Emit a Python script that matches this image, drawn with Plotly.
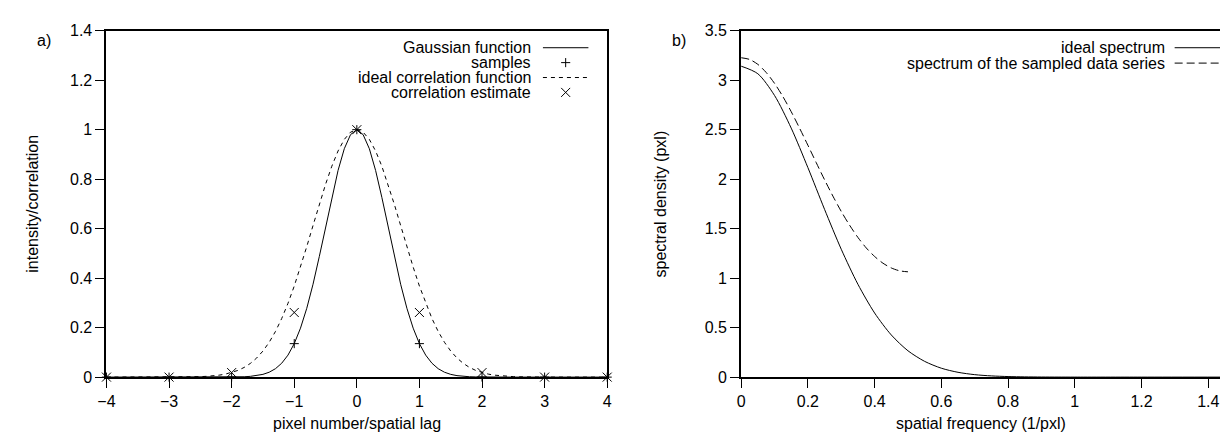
import plotly.graph_objects as go

# ---------------- data: panel a) ----------------
gauss_x = [-4.0, -3.0, -2.5, -2.0, -1.9, -1.8, -1.7, -1.6, -1.5, -1.4, -1.3, -1.2, -1.1, -1.0,
           -0.9, -0.8, -0.7, -0.6, -0.5, -0.4, -0.3, -0.2, -0.1, 0.0,
           0.1, 0.2, 0.3, 0.4, 0.5, 0.6, 0.7, 0.8, 0.9, 1.0,
           1.1, 1.2, 1.3, 1.4, 1.5, 1.6, 1.7, 1.8, 1.9, 2.0, 2.5, 3.0, 4.0]
gauss_y = [0.0, 0.0, 0.0, 0.00034, 0.00073, 0.00154, 0.00309, 0.00598, 0.01111, 0.01984, 0.03405,
           0.05613, 0.08892, 0.13534, 0.19790, 0.27804, 0.37531, 0.48675, 0.60653, 0.72615,
           0.83527, 0.92312, 0.98020, 1.0,
           0.98020, 0.92312, 0.83527, 0.72615, 0.60653, 0.48675, 0.37531, 0.27804, 0.19790,
           0.13534, 0.08892, 0.05613, 0.03405, 0.01984, 0.01111, 0.00598, 0.00309, 0.00154,
           0.00073, 0.00034, 0.0, 0.0, 0.0]

corr_x = [-4.0, -3.5, -3.0, -2.9, -2.8, -2.7, -2.6, -2.5, -2.4, -2.3, -2.2, -2.1, -2.0,
          -1.9, -1.8, -1.7, -1.6, -1.5, -1.4, -1.3, -1.2, -1.1, -1.0,
          -0.9, -0.8, -0.7, -0.6, -0.5, -0.4, -0.3, -0.2, -0.1, 0.0,
          0.1, 0.2, 0.3, 0.4, 0.5, 0.6, 0.7, 0.8, 0.9, 1.0,
          1.1, 1.2, 1.3, 1.4, 1.5, 1.6, 1.7, 1.8, 1.9, 2.0,
          2.1, 2.2, 2.3, 2.4, 2.5, 2.6, 2.7, 2.8, 2.9, 3.0, 3.5, 4.0]
corr_y = [0.0, 0.0, 0.00012, 0.00022, 0.00039, 0.00068, 0.00116, 0.00193, 0.00315, 0.00504,
          0.00791, 0.01216, 0.01832, 0.02705, 0.03916, 0.05558, 0.07730, 0.10540, 0.14086,
          0.18452, 0.23693, 0.29820, 0.36788, 0.44486, 0.52729, 0.61263, 0.69768, 0.77880,
          0.85214, 0.91393, 0.96079, 0.99005, 1.0,
          0.99005, 0.96079, 0.91393, 0.85214, 0.77880, 0.69768, 0.61263, 0.52729, 0.44486,
          0.36788, 0.29820, 0.23693, 0.18452, 0.14086, 0.10540, 0.07730, 0.05558, 0.03916,
          0.02705, 0.01832, 0.01216, 0.00791, 0.00504, 0.00315, 0.00193, 0.00116, 0.00068,
          0.00039, 0.00022, 0.00012, 0.0, 0.0]

sample_x = [-4, -3, -2, -1, 0, 1, 2, 3, 4]
sample_y = [0.0, 0.0, 0.00034, 0.13534, 1.0, 0.13534, 0.00034, 0.0, 0.0]
estimate_y = [0.0, 0.00009, 0.01832, 0.26120, 1.0, 0.26120, 0.01832, 0.00009, 0.0]

# ---------------- data: panel b) ----------------
freq_ideal = [0.0, 0.05, 0.1, 0.15, 0.2, 0.25, 0.3, 0.35, 0.4, 0.45, 0.5, 0.55, 0.6, 0.65,
              0.7, 0.75, 0.8, 0.85, 0.9, 0.95, 1.0, 1.2, 1.44]
spec_ideal = [3.1416, 3.065, 2.846, 2.516, 2.117, 1.695, 1.292, 0.938, 0.648, 0.426, 0.266,
              0.159, 0.0899, 0.0486, 0.0249, 0.0122, 0.00567, 0.00251, 0.00106, 0.00042,
              0.00016, 0.0, 0.0]

freq_sampled = [0.0, 0.025, 0.05, 0.075, 0.1, 0.125, 0.15, 0.175, 0.2, 0.225, 0.25, 0.275,
                0.3, 0.325, 0.35, 0.375, 0.4, 0.425, 0.45, 0.475, 0.5]
spec_sampled = [3.227, 3.210, 3.160, 3.078, 2.968, 2.835, 2.682, 2.516, 2.343, 2.167, 1.994,
                1.829, 1.674, 1.535, 1.411, 1.305, 1.219, 1.151, 1.103, 1.074, 1.064]

left_x_ticks = [-4, -3, -2, -1, 0, 1, 2, 3, 4]

# ---------------- layout geometry (pixels) ----------------
W, H = 1228, 438
FONT = "Liberation Sans, Arial, Helvetica, sans-serif"
FS = 16

def px(x):
    return x / W

def py(y):
    return 1 - y / H

ax_top, ax_bot = 15.3, 375.7
left_l, left_r = 90.5, 597.0
right_l, right_r = 732.5, 1218.5

fig = go.Figure()

black = "black"
fig.add_trace(go.Scatter(x=gauss_x, y=gauss_y, mode="lines", line=dict(color=black, width=1),
                         xaxis="x", yaxis="y", showlegend=False))
fig.add_trace(go.Scatter(x=corr_x, y=corr_y, mode="lines",
                         line=dict(color=black, width=1, dash="4px,4px"),
                         xaxis="x", yaxis="y", showlegend=False))
fig.add_trace(go.Scatter(x=sample_x, y=sample_y, mode="markers",
                         marker=dict(symbol="cross-thin", size=6.5, line=dict(color=black, width=1)),
                         xaxis="x", yaxis="y", cliponaxis=False, showlegend=False))
fig.add_trace(go.Scatter(x=sample_x, y=estimate_y, mode="markers",
                         marker=dict(symbol="x-thin", size=9, line=dict(color=black, width=1)),
                         xaxis="x", yaxis="y", cliponaxis=False, showlegend=False))

fig.add_trace(go.Scatter(x=freq_ideal, y=spec_ideal, mode="lines",
                         line=dict(color=black, width=1, shape="spline", smoothing=0.8),
                         xaxis="x2", yaxis="y2", showlegend=False))
fig.add_trace(go.Scatter(x=freq_sampled, y=spec_sampled, mode="lines",
                         line=dict(color=black, width=1, dash="8px,4px", shape="spline", smoothing=0.8),
                         xaxis="x2", yaxis="y2", showlegend=False))

# legend key samples on a hidden pixel-coordinate overlay axis
kx0, kx1 = 532.0, 578.0
rows_a = [33.0, 48.5, 64.0, 79.5]
fig.add_trace(go.Scatter(x=[kx0, kx1], y=[rows_a[0]] * 2, mode="lines",
                         line=dict(color=black, width=1), xaxis="x3", yaxis="y3", showlegend=False))
fig.add_trace(go.Scatter(x=[(kx0 + kx1) / 2], y=[rows_a[1]], mode="markers",
                         marker=dict(symbol="cross-thin", size=6.5, line=dict(color=black, width=1)),
                         xaxis="x3", yaxis="y3", showlegend=False))
fig.add_trace(go.Scatter(x=[kx0, kx1], y=[rows_a[2]] * 2, mode="lines",
                         line=dict(color=black, width=1, dash="4px,4px"),
                         xaxis="x3", yaxis="y3", showlegend=False))
fig.add_trace(go.Scatter(x=[(kx0 + kx1) / 2], y=[rows_a[3]], mode="markers",
                         marker=dict(symbol="x-thin", size=9, line=dict(color=black, width=1)),
                         xaxis="x3", yaxis="y3", showlegend=False))

kbx0, kbx1 = 1171.0, 1217.0
rows_b = [33.0, 49.0]
fig.add_trace(go.Scatter(x=[kbx0, kbx1], y=[rows_b[0]] * 2, mode="lines",
                         line=dict(color=black, width=1), xaxis="x3", yaxis="y3", showlegend=False))
fig.add_trace(go.Scatter(x=[kbx0, kbx1], y=[rows_b[1]] * 2, mode="lines",
                         line=dict(color=black, width=1, dash="8px,4px"),
                         xaxis="x3", yaxis="y3", showlegend=False))

axis_common = dict(showgrid=False, zeroline=False, showline=True, linecolor=black, linewidth=2,
                   mirror=True, ticks="outside", ticklen=9, tickwidth=1, tickcolor=black,
                   tickfont=dict(family=FONT, size=FS, color=black))

fig.update_layout(
    width=W, height=H, autosize=False,
    margin=dict(l=0, r=0, t=0, b=0),
    paper_bgcolor="white", plot_bgcolor="rgba(0,0,0,0)",
    showlegend=False,
    font=dict(family=FONT, size=FS, color=black),
    xaxis=dict(domain=[px(left_l), px(left_r)], range=[-4, 4], tickvals=left_x_ticks,
               anchor="y", **axis_common),
    yaxis=dict(domain=[py(ax_bot), py(ax_top)], range=[0, 1.4], dtick=0.2, tick0=0,
               anchor="x", **axis_common),
    xaxis2=dict(domain=[px(right_l), px(right_r)], range=[0, 1.44], dtick=0.2, tick0=0,
                anchor="y2", **axis_common),
    yaxis2=dict(domain=[py(ax_bot), py(ax_top)], range=[0, 3.5], dtick=0.5, tick0=0,
                anchor="x2", **axis_common),
    xaxis3=dict(domain=[0, 1], range=[0, W], visible=False, anchor="y3", fixedrange=True),
    yaxis3=dict(domain=[0, 1], range=[H, 0], visible=False, anchor="x3", fixedrange=True),
)

def note(text, x, y, xanchor="center", yanchor="middle", angle=0):
    fig.add_annotation(text=text, x=px(x), y=py(y), xref="paper", yref="paper",
                       xanchor=xanchor, yanchor=yanchor, showarrow=False, textangle=angle,
                       font=dict(family=FONT, size=FS, color=black))

# axis titles
note("pixel number/spatial lag", (left_l + left_r) / 2, 424)
note("spatial frequency (1/pxl)", (right_l + right_r) / 2, 424)
note("intensity/correlation", 16, (ax_top + ax_bot) / 2, angle=-90)
note("spectral density (pxl)", 651, (ax_top + ax_bot) / 2, angle=-90)
# panel labels
note("a)", 27, 25)
note("b)", 670, 25)
# legend texts
legend_a = ["Gaussian function", "samples", "ideal correlation function", "correlation estimate"]
for t, r in zip(legend_a, rows_a):
    note(t, 522, r, xanchor="right")
legend_b = ["ideal spectrum", "spectrum of the sampled data series"]
for t, r in zip(legend_b, rows_b):
    note(t, 1163, r, xanchor="right")

fig.write_html("out.html")
